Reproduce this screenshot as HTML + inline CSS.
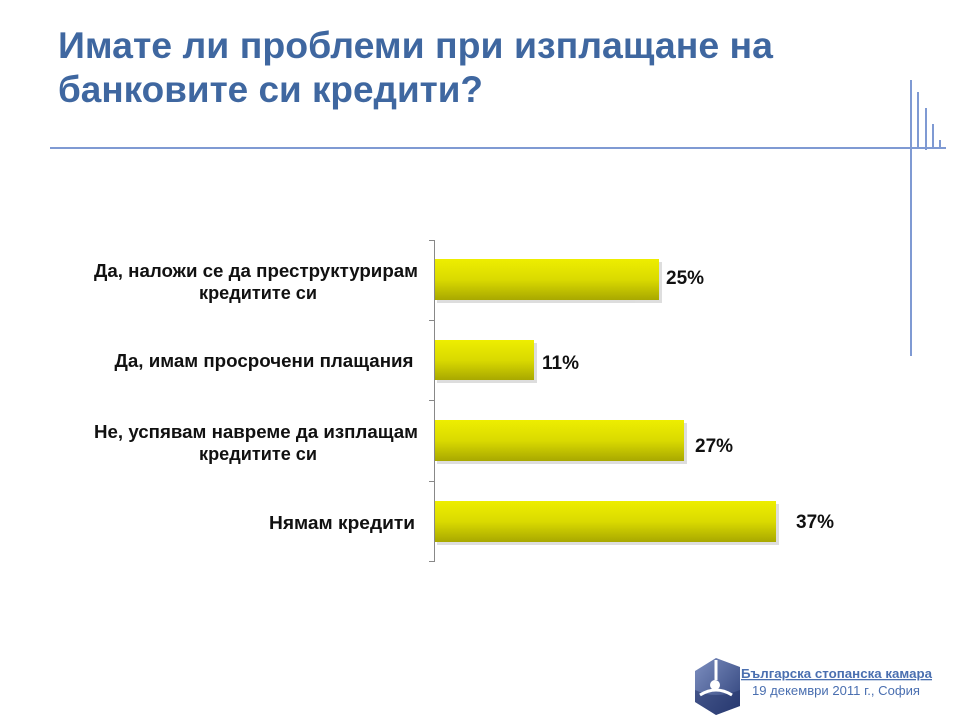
<!DOCTYPE html>
<html><head><meta charset="utf-8"><style>
html,body{margin:0;padding:0;background:#fff;}
svg{display:block;}
</style></head><body>
<svg width="960" height="720" viewBox="0 0 960 720" xmlns="http://www.w3.org/2000/svg" font-family="Liberation Sans, Arial, sans-serif">
<defs>
<linearGradient id="g" x1="0" y1="0" x2="0" y2="1">
<stop offset="0" stop-color="#eeee00"/>
<stop offset="0.5" stop-color="#dada00"/>
<stop offset="1" stop-color="#a8a800"/>
</linearGradient>
<linearGradient id="lg" x1="0" y1="0" x2="1" y2="1">
<stop offset="0" stop-color="#7d8fc0"/>
<stop offset="1" stop-color="#2c3f78"/>
</linearGradient>
</defs>
<g fill="#3f67a0" font-weight="bold" font-size="37">
<text x="58" y="58" textLength="715" lengthAdjust="spacingAndGlyphs">Имате ли проблеми при изплащане на</text>
<text x="58" y="102" textLength="425" lengthAdjust="spacingAndGlyphs">банковите си кредити?</text>
</g>
<g stroke="#7f9ad3" stroke-width="2">
<line x1="50" y1="148" x2="946" y2="148"/>
<line x1="911" y1="80" x2="911" y2="356"/>
<line x1="918" y1="92" x2="918" y2="148"/>
<line x1="926" y1="108" x2="926" y2="150"/>
<line x1="933" y1="124" x2="933" y2="148"/>
<line x1="940" y1="140" x2="940" y2="148"/>
</g>
<g stroke="#888" stroke-width="1">
<line x1="434.5" y1="240" x2="434.5" y2="562"/>
<line x1="429" y1="240.5" x2="434" y2="240.5"/>
<line x1="429" y1="320.5" x2="434" y2="320.5"/>
<line x1="429" y1="400.5" x2="434" y2="400.5"/>
<line x1="429" y1="481.5" x2="434" y2="481.5"/>
<line x1="429" y1="561.5" x2="434" y2="561.5"/>
</g>
<g fill="#c8c8c8" opacity="0.6">
<rect x="437" y="262" width="225" height="41"/>
<rect x="437" y="343" width="100" height="40"/>
<rect x="437" y="423" width="250" height="41"/>
<rect x="437" y="504" width="342" height="41"/>
</g>
<g fill="url(#g)">
<rect x="435" y="259" width="224" height="41"/>
<rect x="435" y="340" width="99" height="40"/>
<rect x="435" y="420" width="249" height="41"/>
<rect x="435" y="501" width="341" height="41"/>
</g>
<g font-weight="bold" font-size="19" fill="#111">
<text x="666" y="284">25%</text>
<text x="542" y="369">11%</text>
<text x="695" y="452">27%</text>
<text x="796" y="528">37%</text>
</g>
<g font-weight="bold" font-size="18" fill="#111" text-anchor="middle">
<text x="256" y="277" textLength="324" lengthAdjust="spacingAndGlyphs">Да, наложи се да преструктурирам</text>
<text x="258" y="299" textLength="118" lengthAdjust="spacingAndGlyphs">кредитите си</text>
<text x="264" y="367" textLength="299" lengthAdjust="spacingAndGlyphs">Да, имам просрочени плащания</text>
<text x="256" y="438" textLength="324" lengthAdjust="spacingAndGlyphs">Не, успявам навреме да изплащам</text>
<text x="258" y="460" textLength="118" lengthAdjust="spacingAndGlyphs">кредитите си</text>
<text x="342" y="529" textLength="146" lengthAdjust="spacingAndGlyphs">Нямам кредити</text>
</g>
<g>
<polygon points="716,658 740,667 740,706 716,715 695,702 695,671" fill="url(#lg)"/>
<path d="M695,690 Q716,700 740,690 L740,706 L716,715 L695,702 Z" fill="#1f2f66" opacity="0.5"/>
<circle cx="715" cy="685" r="5" fill="#fff"/>
<path d="M700,695 Q716,685 732,695" stroke="#fff" stroke-width="3" fill="none"/>
<path d="M716,660 L716,680" stroke="#fff" stroke-width="3"/>
</g>
<g fill="#4a6fb0" font-size="13">
<text x="741" y="678" font-weight="bold" text-decoration="underline" textLength="191" lengthAdjust="spacingAndGlyphs">Българска стопанска камара</text>
<text x="752" y="695" textLength="168" lengthAdjust="spacingAndGlyphs">19 декември 2011 г., София</text>
</g>
</svg>
</body></html>
